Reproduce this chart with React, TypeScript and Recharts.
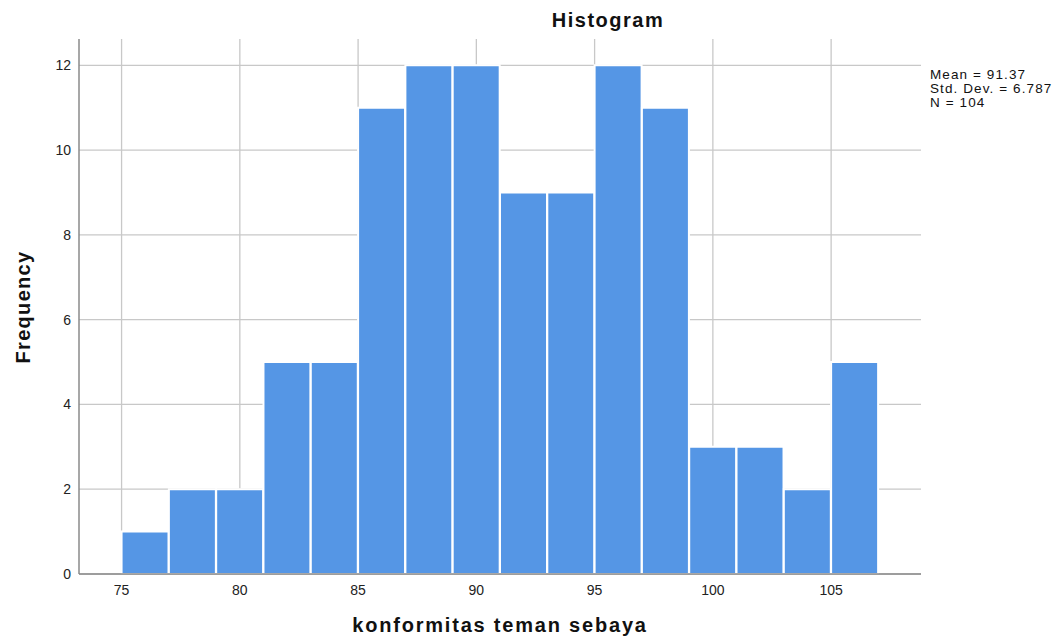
import React from "react";
import { ComposedChart, Bar, XAxis, YAxis, CartesianGrid } from "recharts";

// bin midpoints (bins are 2 units wide, 75..107)
const binMids = [76, 78, 80, 82, 84, 86, 88, 90, 92, 94, 96, 98, 100, 102, 104, 106];
const frequencies = [1, 2, 2, 5, 5, 11, 12, 12, 9, 9, 12, 11, 3, 3, 2, 5];
const xTicks = [75, 80, 85, 90, 95, 100, 105];
const yTicks = [0, 2, 4, 6, 8, 10, 12];
const stats = ["Mean = 91.37", "Std. Dev. = 6.787", "N = 104"];

const data = binMids.map((x, i) => ({ x, freq: frequencies[i] }));

const FONT = "'Liberation Sans', Arial, sans-serif";

export default function App() {
  return (
    <div style={{ position: "absolute", left: 0, top: 0, width: 1057, height: 642, background: "#fff", fontFamily: FONT }}>
      <ComposedChart
        width={1057}
        height={642}
        data={data}
        margin={{ top: 39, right: 136, bottom: 0, left: 0 }}
        barCategoryGap={0}
        barGap={0}
      >
        {/* grid only at the tick values, no border on top/right */}
        <CartesianGrid stroke="#c8c8c8" strokeWidth={1.3} syncWithTicks />
        <XAxis
          dataKey="x"
          type="number"
          domain={[73.2, 108.8]}
          ticks={xTicks}
          allowDataOverflow
          height={68}
          tickLine={false}
          tickMargin={5}
          axisLine={{ stroke: "#8a8a8a", strokeWidth: 1.5 }}
          tick={{ fill: "#222", fontSize: 14, fontFamily: FONT }}
        />
        <YAxis
          type="number"
          domain={[0, 12.62]}
          ticks={yTicks}
          allowDataOverflow
          width={79}
          tickLine={false}
          axisLine={{ stroke: "#8a8a8a", strokeWidth: 1.5 }}
          tick={{ fill: "#222", fontSize: 14, fontFamily: FONT }}
        />
        <Bar dataKey="freq" fill="#5596e5" stroke="#ffffff" strokeWidth={2} barSize={47} isAnimationActive={false} />
      </ComposedChart>

      <div style={{ position: "absolute", left: 0, width: 1216, top: 9, textAlign: "center", fontSize: 20, letterSpacing: 1.5, fontWeight: "bold", color: "#111" }}>
        Histogram
      </div>
      <div style={{ position: "absolute", left: 930, top: 68, fontSize: 13.5, letterSpacing: 1.1, lineHeight: "14px", color: "#111", whiteSpace: "nowrap" }}>
        {stats.map((s) => (
          <div key={s}>{s}</div>
        ))}
      </div>
      <div style={{ position: "absolute", left: 0, width: 1000, top: 614, textAlign: "center", fontSize: 20, letterSpacing: 1.8, fontWeight: "bold", color: "#111" }}>
        konformitas teman sebaya
      </div>
      <div
        style={{
          position: "absolute",
          left: 23,
          top: 307,
          transform: "translate(-50%, -50%) rotate(-90deg)",
          fontSize: 20,
          letterSpacing: 1.3,
          fontWeight: "bold",
          color: "#111",
          whiteSpace: "nowrap",
        }}
      >
        Frequency
      </div>
    </div>
  );
}
